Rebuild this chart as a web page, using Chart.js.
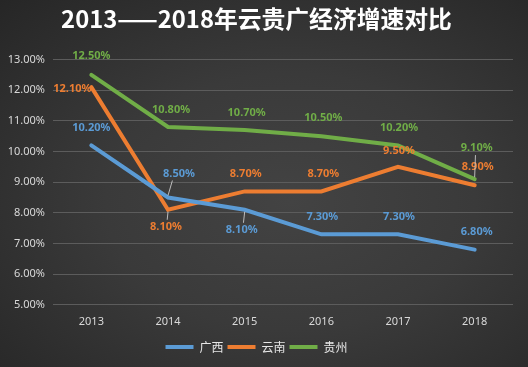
<!DOCTYPE html>
<html>
<head>
<meta charset="utf-8">
<script src="https://cdn.jsdelivr.net/npm/chart.js@4"></script>
<style>
    html, body { margin: 0; padding: 0; }
    body {
        width: 528px;
        height: 367px;
        overflow: hidden;
        background: radial-gradient(ellipse at 55% 55%, #434343 0%, #3a3a3a 45%, #262626 100%);
    }
    #wrap { position: relative; width: 528px; height: 367px; }
</style>
</head>
<body>
<div id="wrap"><canvas id="growthChart"></canvas></div>
<script>
// ===== DATA =====
const years = ["2013", "2014", "2015", "2016", "2017", "2018"];
const guangxi = [10.2, 8.5, 8.1, 7.3, 7.3, 6.8];
const yunnan = [12.1, 8.1, 8.7, 8.7, 9.5, 8.9];
const guizhou = [12.5, 10.8, 10.7, 10.5, 10.2, 9.1];
const seriesNames = ["广西", "云南", "贵州"];
const yTicks = [5, 6, 7, 8, 9, 10, 11, 12, 13];

// label placement (dx, dy from the point), like Excel's manual label moves
const labelOffsets = [
    [[0, -18], [11, -24], [-3, 20], [1, -17], [1, -17], [2, -18]],
    [[-19, 2], [-2, 17], [1, -18], [2, -18], [1, -16], [3, -18]],
    [[0, -19], [3, -17], [2, -17], [2, -18], [1, -18], [2, -31]]
];
// labels that get a thin leader line back to the point
const leaders = { "0-1": true, "0-2": true, "1-1": true, "2-5": true };

const colors = ["#5b9bd5", "#ed7d31", "#70ad47"];

// Draws the value labels next to each point
const valueLabels = {
    id: "valueLabels",
    afterDatasetsDraw(chart) {
        const ctx = chart.ctx;
        ctx.save();
        ctx.font = "bold 11px 'Noto Sans'";
        ctx.textAlign = "center";
        ctx.textBaseline = "middle";
        chart.data.datasets.forEach((ds, di) => {
            const meta = chart.getDatasetMeta(di);
            meta.data.forEach((pt, i) => {
                const off = labelOffsets[di][i];
                const lx = pt.x + off[0];
                const ly = pt.y + off[1];
                if (leaders[di + "-" + i]) {
                    ctx.strokeStyle = "rgba(220,220,220,0.8)";
                    ctx.lineWidth = 1;
                    ctx.beginPath();
                    const sy = off[1] < 0 ? ly + 7 : ly - 7;
                    ctx.moveTo(lx - off[0] * 0.6, sy);
                    ctx.lineTo(pt.x, pt.y + (off[1] < 0 ? -2 : 2));
                    ctx.stroke();
                }
                ctx.fillStyle = colors[di];
                ctx.fillText(ds.data[i].toFixed(2) + "%", lx, ly);
            });
        });
        ctx.restore();
    }
};

function makeDataset(label, values, color) {
    return {
        label: label,
        data: values,
        borderColor: color,
        backgroundColor: color,
        borderWidth: 4,
        pointRadius: 0,
        tension: 0,
        borderCapStyle: "round"
    };
}

document.addEventListener("DOMContentLoaded", function () {
    const ctx = document.getElementById("growthChart");

    new Chart(ctx, {
        type: "line",
        data: {
            labels: years,
            datasets: [
                makeDataset(seriesNames[0], guangxi, colors[0]),
                makeDataset(seriesNames[1], yunnan, colors[1]),
                makeDataset(seriesNames[2], guizhou, colors[2])
            ]
        },
        options: {
            responsive: true,
            maintainAspectRatio: false,
            animation: false,
            layout: { padding: { left: 0, right: 15, top: 0, bottom: 4 } },
            plugins: {
                title: {
                    display: true,
                    text: "2013——2018年云贵广经济增速对比",
                    color: "#ffffff",
                    font: { family: "'Noto Sans CJK SC'", size: 23.8, weight: "bold" },
                    padding: { top: 5, bottom: 26 }
                },
                legend: {
                    position: "bottom",
                    labels: {
                        color: "#e6e6e6",
                        font: { family: "'Noto Sans CJK SC'", size: 12 },
                        boxWidth: 28,
                        boxHeight: 4,
                        padding: 4,
                        generateLabels(chart) {
                            return chart.data.datasets.map((ds, i) => ({
                                text: ds.label,
                                fillStyle: ds.borderColor,
                                strokeStyle: ds.borderColor,
                                lineWidth: 0,
                                fontColor: "#e6e6e6",
                                datasetIndex: i
                            }));
                        }
                    }
                },
                tooltip: { enabled: false }
            },
            scales: {
                x: {
                    offset: true,
                    afterFit(axis) {
                        axis.height += 7;
                    },
                    grid: { display: false },
                    border: { display: false },
                    ticks: {
                        color: "#d9d9d9",
                        font: { family: "'Noto Sans'", size: 11 },
                        padding: 2
                    }
                },
                y: {
                    min: yTicks[0],
                    max: yTicks[yTicks.length - 1],
                    afterBuildTicks(axis) {
                        axis.ticks = yTicks.map((v) => ({ value: v }));
                    },
                    afterFit(axis) {
                        axis.width = 53;
                    },
                    grid: { color: "#5c5c5c", lineWidth: 1, drawTicks: false },
                    border: { display: false },
                    ticks: {
                        color: "#d9d9d9",
                        font: { family: "'Noto Sans'", size: 11 },
                        padding: 8,
                        callback: (v) => v.toFixed(2) + "%"
                    }
                }
            }
        },
        plugins: [valueLabels]
    });
});
</script>
</body>
</html>
